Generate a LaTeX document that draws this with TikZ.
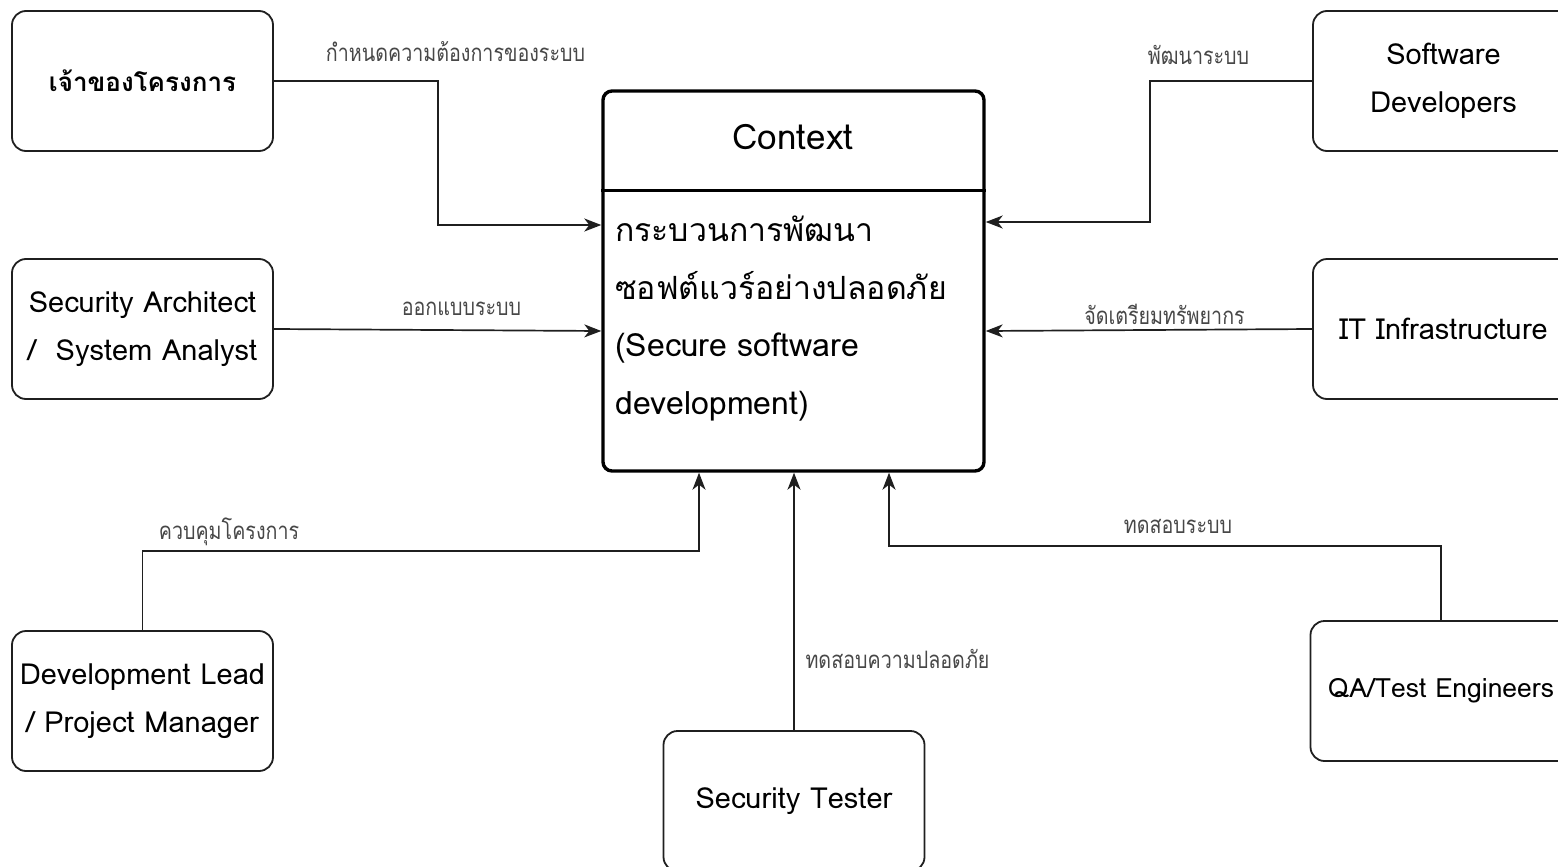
\documentclass[tikz,border=0pt]{standalone}
\usepackage{fontspec}
\setmainfont[Script=Thai]{Loma}
\newfontfamily\lblfont[Script=Thai,FakeStretch=0.82]{Loma}
\usetikzlibrary{arrows.meta,calc}

\begin{document}
\begin{tikzpicture}[x=1pt,y=-1pt,
  actor/.style={draw=black!88, line width=1.8pt, rounded corners=14pt,
    minimum width=261pt, minimum height=140pt, align=center, inner sep=0pt,
    font=\fontsize{29}{48}\selectfont},
  procbox/.style={draw=black, line width=3.4pt, rounded corners=9pt,
    minimum width=381pt, minimum height=380pt, inner sep=0pt},
  conn/.style={draw=black!88, line width=1.7pt,
    -{Stealth[length=17pt,width=13pt,inset=5pt]}},
  flowlbl/.style={font=\lblfont\fontsize{24}{26}\selectfont, text=black!72, inner sep=0pt}]
\useasboundingbox (0,0) rectangle (1558,867);
\clip (0,0) rectangle (1558,867);

% central process
\node[procbox] (main) at (793.5,281) {};
\draw[line width=3pt] (main.west |- 0,190) -- (main.east |- 0,190);
\node[font=\fontsize{35}{40}\selectfont, inner sep=0pt] (ctx) at (793,137) {Context};
\node[anchor=base west, align=left, inner sep=0pt,
  font=\fontsize{32}{57.5}\selectfont] (body) at (615,414)
  {กระบวนการพัฒนา\\ซอฟต์แวร์อย่างปลอดภัย\\(Secure software\\development)};

% entry points on the process box
\coordinate (inA) at (main.west |- 0,225);
\coordinate (inB) at (main.west |- 0,331);
\coordinate (inC) at (main.east |- 0,222);
\coordinate (inD) at (main.east |- 0,331);
\coordinate (inE) at (main.south -| 699,0);
\coordinate (inF) at (main.south -| 794,0);
\coordinate (inG) at (main.south -| 889,0);

% actors
\node[actor, font=\bfseries\fontsize{26}{48}\selectfont] (own) at (142.5,81) {เจ้าของโครงการ};
\node[actor] (arch) at (142.5,329) {Security Architect\\/\ \ System Analyst};
\node[actor] (dev) at (1443.5,81) {Software\\Developers};
\node[actor] (infra) at (1443.5,329) {IT Infrastructure};
\node[actor] (lead) at (142.5,701) {Development Lead\\/ Project Manager};
\node[actor] (tester) at (794,801) {Security Tester};
\node[actor, font=\fontsize{26.5}{48}\selectfont] (qa) at (1441,691) {QA/Test Engineers};

% flows
\draw[conn] (own.east) -| (438,150) |- (inA);
\draw[conn] (arch.east) -- (inB);
\draw[conn] (dev.west) -| (1150,150) |- (inC);
\draw[conn] (infra.west) -- (inD);
\draw[conn] (lead.north) |- (699,551) -- (inE);
\draw[conn] (tester.north) -- (inF);
\draw[conn] (qa.north) |- (889,546) -- (inG);

% flow labels
\node[flowlbl] (lA) at (455.5,52) {กำหนดความต้องการของระบบ};
\node[flowlbl] (lB) at (461.5,309) {ออกแบบระบบ};
\node[flowlbl] (lC) at (1198.5,55) {พัฒนาระบบ};
\node[flowlbl] (lD) at (1164.5,314) {จัดเตรียมทรัพยากร};
\node[flowlbl] (lE) at (229,532) {ควบคุมโครงการ};
\node[flowlbl] (lF) at (897.5,659) {ทดสอบความปลอดภัย};
\node[flowlbl] (lG) at (1178,526) {ทดสอบระบบ};
\end{tikzpicture}
\end{document}
